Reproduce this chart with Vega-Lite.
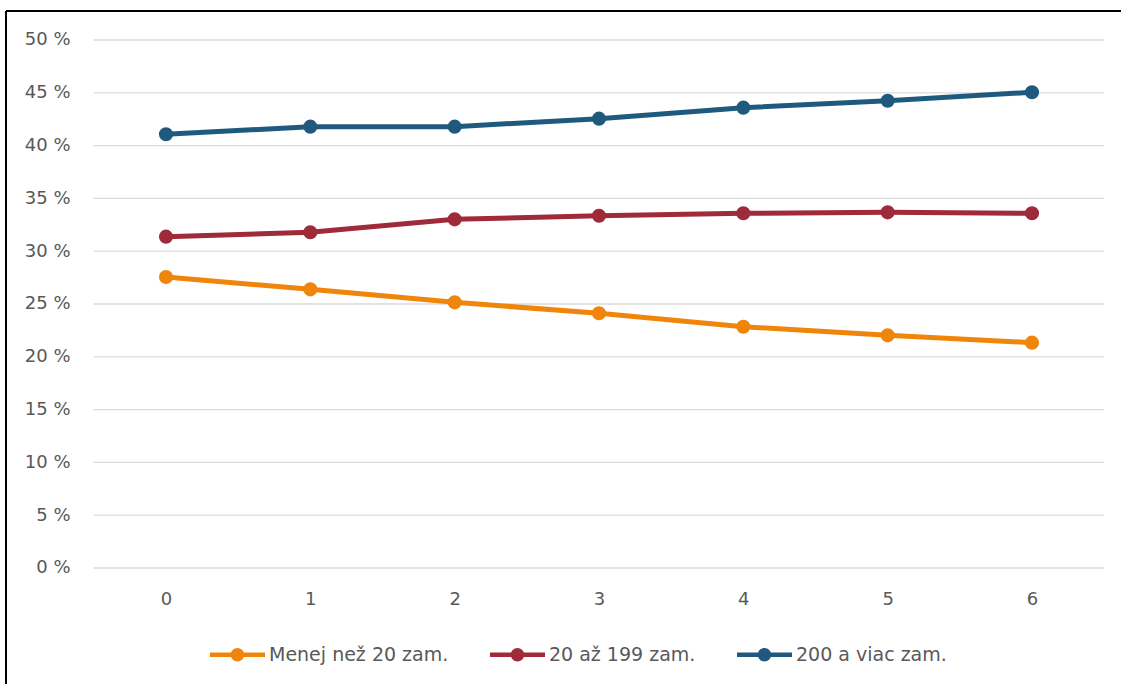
{
  "$schema": "https://vega.github.io/schema/vega-lite/v6.json",
  "autosize": {"type": "none"},
  "padding": {"left": 6, "top": 10, "right": -185, "bottom": -26},
  "width": 1300,
  "height": 700,
  "background": "#ffffff",
  "config": {
    "view": {"stroke": null},
    "font": "DejaVu Sans"
  },
  "datasets": {
    "series": [
      {"x": 0, "s": "Menej než 20 zam.", "v": 27.56},
      {"x": 1, "s": "Menej než 20 zam.", "v": 26.39},
      {"x": 2, "s": "Menej než 20 zam.", "v": 25.16},
      {"x": 3, "s": "Menej než 20 zam.", "v": 24.12},
      {"x": 4, "s": "Menej než 20 zam.", "v": 22.85},
      {"x": 5, "s": "Menej než 20 zam.", "v": 22.03},
      {"x": 6, "s": "Menej než 20 zam.", "v": 21.34},
      {"x": 0, "s": "20 až 199 zam.", "v": 31.38},
      {"x": 1, "s": "20 až 199 zam.", "v": 31.79},
      {"x": 2, "s": "20 až 199 zam.", "v": 33.02},
      {"x": 3, "s": "20 až 199 zam.", "v": 33.36},
      {"x": 4, "s": "20 až 199 zam.", "v": 33.59},
      {"x": 5, "s": "20 až 199 zam.", "v": 33.68},
      {"x": 6, "s": "20 až 199 zam.", "v": 33.59},
      {"x": 0, "s": "200 a viac zam.", "v": 41.07},
      {"x": 1, "s": "200 a viac zam.", "v": 41.79},
      {"x": 2, "s": "200 a viac zam.", "v": 41.79},
      {"x": 3, "s": "200 a viac zam.", "v": 42.55},
      {"x": 4, "s": "200 a viac zam.", "v": 43.59},
      {"x": 5, "s": "200 a viac zam.", "v": 44.25},
      {"x": 6, "s": "200 a viac zam.", "v": 45.05}
    ],
    "grid": [
      {"g": 0}, {"g": 5}, {"g": 10}, {"g": 15}, {"g": 20}, {"g": 25},
      {"g": 30}, {"g": 35}, {"g": 40}, {"g": 45}, {"g": 50}
    ],
    "frame": [{"x0": -1.10855, "x1": 7.5, "y0": -13.447, "y1": 52.7462}]
  },
  "layer": [
    {
      "data": {"name": "grid"},
      "mark": {"type": "rule", "stroke": "#d9d9d9", "strokeWidth": 1.3},
      "encoding": {
        "x": {"datum": -0.5, "type": "quantitative", "scale": {"domain": [-1.10855, 7.89839], "nice": false, "zero": false},
              "axis": {"orient": "bottom", "offset": -111, "values": [0, 1, 2, 3, 4, 5, 6], "format": "d", "grid": false, "domain": false, "ticks": false,
                       "labelPadding": 0, "labelBaseline": "middle", "labelFontSize": 18, "labelColor": "#595959", "labelFont": "DejaVu Sans", "title": null}},
        "x2": {"datum": 6.5},
        "y": {"field": "g", "type": "quantitative", "scale": {"domain": [-13.447, 52.8409], "nice": false, "zero": false},
              "axis": {"orient": "left", "offset": -66, "values": [0, 5, 10, 15, 20, 25, 30, 35, 40, 45, 50], "labelExpr": "datum.value + ' %'",
                       "grid": false, "domain": false, "ticks": false, "labelPadding": 2, "labelFontSize": 18, "labelColor": "#595959", "labelFont": "DejaVu Sans", "title": null}}
      }
    },
    {
      "data": {"name": "frame"},
      "mark": {"type": "rule", "stroke": "#000000", "strokeWidth": 2},
      "encoding": {
        "x": {"field": "x0", "type": "quantitative"},
        "y": {"field": "y1", "type": "quantitative"},
        "y2": {"field": "y0"}
      }
    },
    {
      "data": {"name": "frame"},
      "mark": {"type": "rule", "stroke": "#000000", "strokeWidth": 2},
      "encoding": {
        "x": {"field": "x0", "type": "quantitative"},
        "x2": {"field": "x1"},
        "y": {"field": "y1", "type": "quantitative"}
      }
    },
    {
      "data": {"name": "series"},
      "mark": {"type": "line", "strokeWidth": 5},
      "encoding": {
        "x": {"field": "x", "type": "quantitative"},
        "y": {"field": "v", "type": "quantitative"},
        "color": {"field": "s", "type": "nominal",
                  "scale": {"domain": ["Menej než 20 zam.", "20 až 199 zam.", "200 a viac zam."], "range": ["#F0850C", "#9E2A3A", "#1F5A7E"]},
                  "legend": {"orient": "none", "legendX": 204, "legendY": 617, "direction": "horizontal", "title": null,
                             "symbolType": "M-1,-0.08L1,-0.08L1,0.08L-1,0.08Z M-0.245,0A0.245,0.245,0,1,1,0.245,0A0.245,0.245,0,1,1,-0.245,0Z",
                             "symbolSize": 3025, "symbolStrokeWidth": 0, "symbolOpacity": 1,
                             "labelFontSize": 19, "labelColor": "#595959", "labelFont": "DejaVu Sans", "labelOffset": 4, "columnPadding": 41, "padding": 0, "labelLimit": 400}}
      }
    },
    {
      "data": {"name": "series"},
      "mark": {"type": "point", "filled": true, "opacity": 1, "size": 200},
      "encoding": {
        "x": {"field": "x", "type": "quantitative"},
        "y": {"field": "v", "type": "quantitative"},
        "color": {"field": "s", "type": "nominal"}
      }
    }
  ]
}
